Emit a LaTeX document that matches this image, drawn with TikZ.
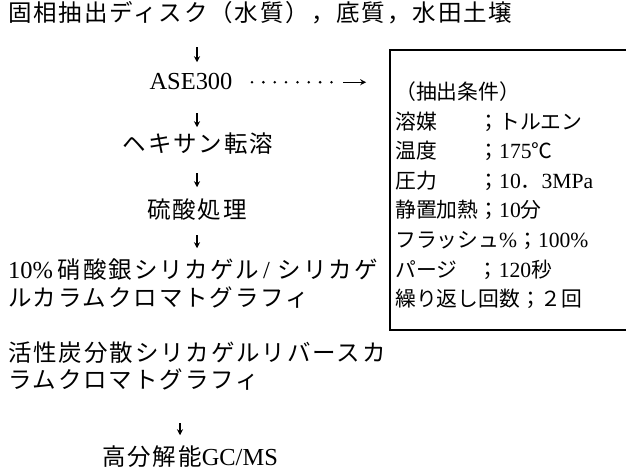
\documentclass[tikz,border=0pt]{standalone}
\usepackage{fontspec}
\setmainfont[Scale=1.04]{Liberation Serif}
\newfontfamily\jp{Noto Sans CJK JP}
\newfontfamily\jpw[LetterSpace=8]{Noto Sans CJK JP}
\usetikzlibrary{arrows.meta}
\begin{document}
\begin{tikzpicture}[x=1pt,y=-1pt,
  base/.style={inner sep=0pt, text height=18pt, text depth=2.5pt},
  txt/.style={base, anchor=base west, font=\fontsize{23.5}{27}\selectfont},
  ctxt/.style={txt, anchor=base},
  btxt/.style={base, anchor=base west, font=\fontsize{20.8}{24}\selectfont},
  arr/.style={-{Stealth[length=6pt,width=6pt]}, line width=1.2pt},
  dots/.style={line width=2.8pt, line cap=round, dash pattern=on 0pt off 11.35pt},
  frame/.style={draw, line width=1.6pt, minimum width=238pt, minimum height=280pt, inner sep=0pt}]
\useasboundingbox (0,0) rectangle (626,470);
\fill[white] (0,0) rectangle (626,470);
% left column
\node[txt] (l1) at (8,22) {\jpw 固相抽出ディスク（水質），底質，水田土壌};
\node[ctxt] (ase) at (191,90) {ASE300};
\node[ctxt] (hex) at (198,153) {\jpw ヘキサン転溶};
\node[ctxt] (sulf) at (197,219) {\jpw 硫酸処理};
\node[txt] (ag1) at (8,279) {10\%\hspace{5pt}{\jpw 硝酸銀シリカゲル}\hspace{4pt}/\hspace{8pt}{\jpw シリカゲ}};
\node[txt] (ag2) at (8,306) {\jpw ルカラムクロマトグラフィ};
\node[txt] (ac1) at (8,361) {\jpw 活性炭分散シリカゲルリバースカ};
\node[txt] (ac2) at (8,388) {\jpw ラムクロマトグラフィ};
\node[ctxt] (hr) at (190,465) {{\jpw 高分解能}GC/MS};
% box
\node[frame] (box) at (509,190) {};
\node[btxt] (b0) at (395,100) {\jp （抽出条件）};
\node[btxt] (b1) at (395,129.5) {\jp 溶媒　　；トルエン};
\node[btxt] (b2) at (395,159) {{\jp 温度　　；}175{\jp ℃}};
\node[btxt] (b3) at (395,188.5) {{\jp 圧力　　；}10{\jp ．}3MPa};
\node[btxt] (b4) at (395,218) {{\jp 静置加熱；}10{\jp 分}};
\node[btxt] (b5) at (395,247.5) {{\jp フラッシュ}\%{\jp ；}100\%};
\node[btxt] (b6) at (395,277) {{\jp パージ　；}120{\jp 秒}};
\node[btxt] (b7) at (395,306.5) {\jp 繰り返し回数；２回};
% connectors
\coordinate (axA) at (197,0);
\coordinate (axB) at (180,0);
\draw[arr, shorten <=33pt, shorten >=20pt] (l1.center -| axA) -- (ase.center -| axA);
\draw[arr, shorten <=31pt, shorten >=18pt] (ase.center -| axA) -- (hex.center -| axA);
\draw[arr, shorten <=28pt, shorten >=24pt] (hex.center -| axA) -- (sulf.center -| axA);
\draw[arr, shorten <=24pt, shorten >=23pt] (sulf.center -| axA) -- (ag1.center -| axA);
\draw[arr, shorten <=43pt, shorten >=22pt] (ac2.center -| axB) -- (hr.center -| axB);
\coordinate (dend) at (box.west |- ase.center);
\draw[dots, shorten <=61pt, shorten >=47pt] (ase.center) -- (dend);
\draw[arr] ([xshift=-46pt]dend) -- ([xshift=-23pt]dend);
\end{tikzpicture}
\end{document}
